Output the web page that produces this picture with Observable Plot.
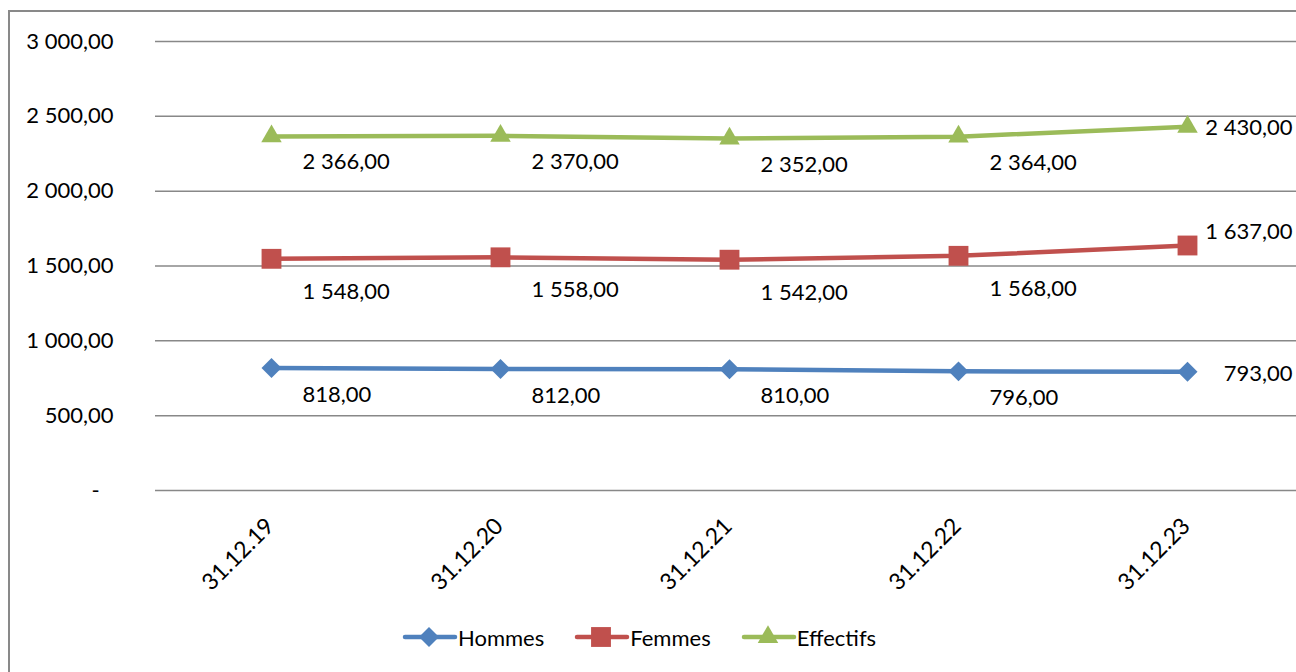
<!DOCTYPE html>
<html><head><meta charset="utf-8">
<script src="https://cdn.jsdelivr.net/npm/d3@7"></script>
<script src="https://cdn.jsdelivr.net/npm/@observablehq/plot@0.6"></script>
<style>
html,body{margin:0;padding:0;background:#fff;overflow:hidden;width:1296px;height:672px;}
#wrap{position:relative;width:1296px;height:672px;overflow:hidden;font-family:Lato, "Open Sans", sans-serif;}
#border{position:absolute;left:8px;top:10px;width:1400px;height:800px;border:2px solid #898989;box-sizing:border-box;}
#chart{position:absolute;left:0;top:0;width:1310px;}
#chart svg{max-width:none !important;}
#legend{position:absolute;left:402px;top:622px;height:30px;display:flex;align-items:center;font-size:22px;color:#000;font-family:Lato, sans-serif;}
.item{display:flex;align-items:center;margin-right:30px;}
.item svg{display:block;}
</style></head><body>
<div id="wrap"><div id="border"></div><div id="chart"></div><div id="legend"></div></div>
<script>
const dates = ["31.12.19","31.12.20","31.12.21","31.12.22","31.12.23"];
const hommes = [818, 812, 810, 796, 793];
const femmes = [1548, 1558, 1542, 1568, 1637];
const effectifs = [2366, 2370, 2352, 2364, 2430];
const yTicks = [0, 500, 1000, 1500, 2000, 2500, 3000];
const seriesNames = ["Hommes", "Femmes", "Effectifs"];
const seriesColors = ["#4F81BD", "#C0504D", "#9BBB59"];

const values = {Hommes: hommes, Femmes: femmes, Effectifs: effectifs};
const rows = seriesNames.flatMap(s => dates.map((d, i) => ({date: d, series: s, value: values[s][i]})));
const lastDate = dates[dates.length - 1];

const loc = d3.formatLocale({decimal: ",", thousands: "\u00a0", grouping: [3]});
const fmt = loc.format(",.2f");
const tickFmt = v => v === 0 ? "-\u2002\u2009" : fmt(v);

const symbols = {Hommes: ["diamond2", 9], Femmes: ["square", 11.2], Effectifs: ["triangle", 7.6]};
const labelDy = {Hommes: 27, Femmes: 33, Effectifs: 26};
const lastDy = {Hommes: 2, Femmes: -14, Effectifs: 1};
const colorOf = s => seriesColors[seriesNames.indexOf(s)];

const marks = [
  Plot.gridY(yTicks, {stroke: "#888888", strokeOpacity: 1, strokeWidth: 1.5}),
  Plot.axisY(yTicks, {tickSize: 0, tickPadding: 42, tickFormat: tickFmt, fontSize: 22, fill: "#000", label: null}),
  Plot.text(dates, {x: d => d, frameAnchor: "bottom", rotate: -45, textAnchor: "end", lineAnchor: "bottom", dx: 4, dy: 37, fontSize: 23, fill: "#000"}),
  Plot.line(rows, {x: "date", y: "value", z: "series", stroke: "series", strokeWidth: 4.5, strokeLinejoin: "round"})
];
for (const s of seriesNames) {
  const sub = rows.filter(r => r.series === s);
  marks.push(Plot.dot(sub, {x: "date", y: "value", symbol: () => symbols[s][0], r: symbols[s][1], fill: colorOf(s), stroke: "none"}));
  marks.push(Plot.text(sub.filter(r => r.date !== lastDate), {x: "date", y: "value", text: d => fmt(d.value), textAnchor: "start", dx: 31, dy: labelDy[s], fontSize: 22, fill: "#000"}));
  marks.push(Plot.text(sub.filter(r => r.date === lastDate), {x: "date", y: "value", text: d => fmt(d.value), textAnchor: "end", dx: 105, dy: lastDy[s], fontSize: 22, fill: "#000"}));
}

const chart = Plot.plot({
  width: 1310,
  height: 600,
  marginLeft: 155,
  marginRight: 8,
  marginTop: 41,
  marginBottom: 110,
  style: {fontFamily: "Lato, sans-serif", fontSize: "22px", background: "transparent", overflow: "visible", maxWidth: "none"},
  x: {type: "point", domain: dates, range: [270, 1187], padding: 0, axis: null},
  y: {domain: [0, 3000], axis: null},
  color: {domain: seriesNames, range: seriesColors},
  symbol: {type: "identity"},
  marks
});
document.getElementById("chart").appendChild(chart);

// legend
const legend = d3.select("#legend");
for (const s of seriesNames) {
  const item = legend.append("div").attr("class", "item");
  const svg = item.append("svg").attr("width", 56).attr("height", 26);
  svg.append("line").attr("x1", 3).attr("x2", 53).attr("y1", 13).attr("y2", 13)
    .attr("stroke", colorOf(s)).attr("stroke-width", 4.5).attr("stroke-linecap", "round");
  const typ = {Hommes: d3.symbolDiamond2, Femmes: d3.symbolSquare, Effectifs: d3.symbolTriangle}[s];
  const r = symbols[s][1];
  svg.append("path").attr("d", d3.symbol(typ, Math.PI * r * r)()).attr("transform", "translate(27,13)").attr("fill", colorOf(s));
  item.append("span").text(s);
}
</script>
</body></html>
